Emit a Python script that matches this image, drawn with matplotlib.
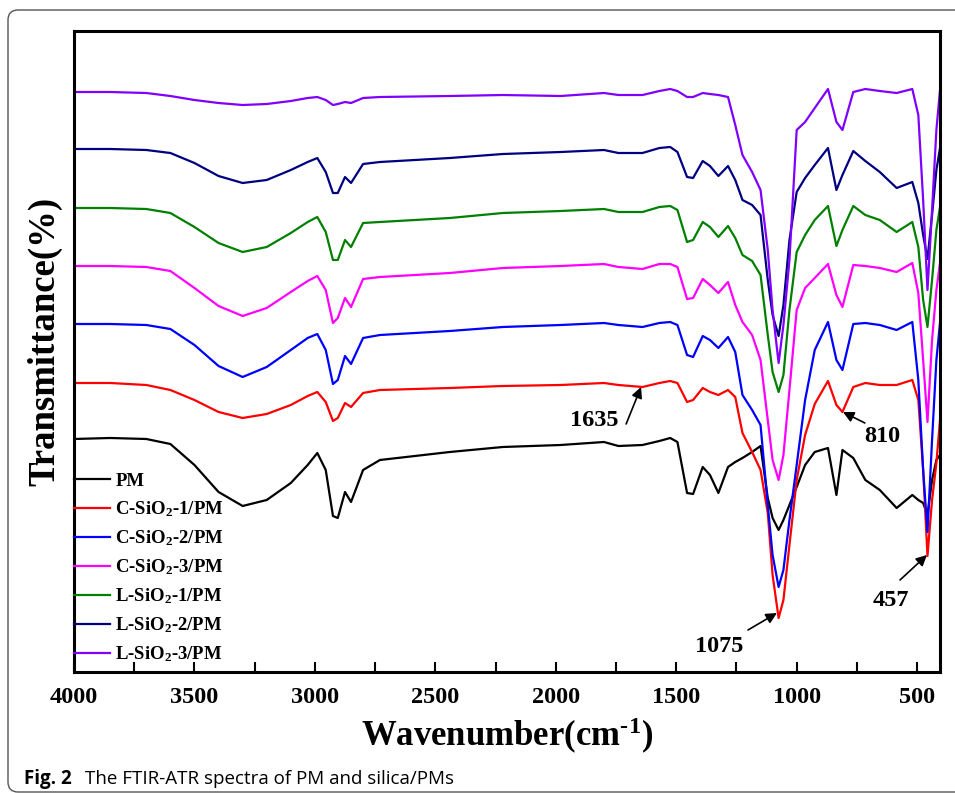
import matplotlib
matplotlib.use('Agg')
import matplotlib.pyplot as plt
from matplotlib.patches import FancyBboxPatch
from matplotlib.ticker import MultipleLocator

plt.rcParams['font.family'] = ['Liberation Serif', 'DejaVu Serif']
plt.rcParams['font.weight'] = 'bold'
plt.rcParams['mathtext.fontset'] = 'custom'
plt.rcParams['mathtext.rm'] = 'Liberation Serif:bold'
plt.rcParams['mathtext.it'] = 'Liberation Serif:bold:italic'
plt.rcParams['mathtext.bf'] = 'Liberation Serif:bold'
plt.rcParams['mathtext.default'] = 'rm'

# wavenumber grid (cm-1)
wavenumber = [4000, 3850, 3700, 3600, 3500, 3400, 3300, 3200, 3100, 3030,
              2990, 2955, 2925, 2905, 2875, 2850, 2800, 2730, 2440, 2220,
              1980, 1800, 1740, 1640, 1570, 1525, 1495, 1455, 1430, 1390,
              1360, 1325, 1285, 1255, 1225, 1185, 1150, 1120, 1100, 1075,
              1055, 1030, 1000, 965, 925, 870, 835, 810, 765, 715,
              655, 585, 520, 495, 475, 457, 438, 420, 405]

# transmittance (a.u., curves stacked with offsets as in the figure)
pm = [24.1, 24.2, 24.1, 23.6, 21.5, 18.8, 17.4, 18.0, 19.7, 21.5,
      22.7, 21.0, 16.4, 16.2, 18.8, 17.8, 21.0, 22.0, 22.8, 23.3,
      23.5, 23.8, 23.4, 23.5, 23.9, 24.2, 23.8, 18.7, 18.6, 21.3,
      20.5, 18.7, 21.3, 21.8, 22.2, 22.8, 23.4, 18.2, 16.2, 15.0,
      16.0, 17.5, 19.3, 21.5, 22.8, 23.2, 18.5, 23.0, 22.2, 20.0,
      19.0, 17.2, 18.5, 18.0, 17.7, 16.5, 20.0, 22.0, 22.5]
c_sio2_1 = [29.7, 29.7, 29.5, 29.0, 28.0, 26.8, 26.2, 26.6, 27.5, 28.4,
            28.8, 27.8, 25.9, 26.2, 27.7, 27.3, 28.7, 29.0, 29.2, 29.4,
            29.5, 29.7, 29.5, 29.3, 29.7, 29.9, 29.7, 27.8, 28.0, 29.2,
            28.8, 28.5, 29.0, 28.3, 24.7, 22.8, 21.0, 16.7, 10.5, 6.2,
            8.0, 13.5, 20.0, 24.5, 27.6, 29.9, 27.5, 26.8, 29.3, 29.7,
            29.5, 29.5, 30.0, 28.0, 21.0, 12.4, 18.0, 21.7, 26.0]
c_sio2_2 = [35.6, 35.6, 35.5, 35.1, 33.5, 31.4, 30.3, 31.3, 33.0, 34.2,
            34.6, 33.0, 29.6, 30.0, 32.4, 31.6, 34.2, 34.5, 34.9, 35.3,
            35.5, 35.7, 35.5, 35.3, 35.7, 35.8, 35.5, 32.5, 32.3, 34.4,
            34.0, 33.2, 34.3, 32.8, 28.5, 27.0, 25.5, 17.5, 12.5, 9.3,
            11.0, 16.0, 21.5, 28.0, 33.0, 35.8, 32.0, 31.0, 35.6, 35.7,
            35.5, 35.0, 35.8, 30.0, 21.0, 14.8, 24.0, 32.0, 35.7]
c_sio2_3 = [41.4, 41.4, 41.3, 40.9, 39.2, 37.4, 36.4, 37.2, 38.8, 39.9,
            40.4, 39.0, 35.7, 36.2, 38.2, 37.3, 40.1, 40.3, 40.7, 41.2,
            41.4, 41.6, 41.3, 41.1, 41.6, 41.6, 41.3, 38.1, 38.2, 40.1,
            39.5, 38.7, 39.8, 37.5, 35.8, 34.5, 32.0, 26.0, 22.0, 20.0,
            22.5, 29.0, 37.0, 39.2, 40.2, 41.6, 38.5, 37.3, 41.5, 41.4,
            41.2, 40.8, 41.7, 38.7, 32.0, 25.8, 34.0, 39.0, 41.7]
l_sio2_1 = [47.2, 47.2, 47.1, 46.7, 45.3, 43.7, 42.8, 43.3, 44.7, 45.8,
            46.3, 44.8, 42.0, 42.0, 44.0, 43.3, 45.7, 45.8, 46.2, 46.7,
            46.9, 47.1, 46.8, 46.8, 47.3, 47.4, 47.0, 43.8, 44.0, 45.8,
            45.3, 44.3, 45.4, 44.2, 42.5, 41.9, 40.5, 34.5, 30.8, 28.8,
            30.5, 37.0, 42.8, 44.5, 46.0, 47.4, 43.4, 45.0, 47.4, 46.5,
            46.0, 44.8, 45.8, 43.3, 38.0, 35.3, 40.0, 45.0, 47.3]
l_sio2_2 = [53.1, 53.1, 53.0, 52.7, 51.7, 50.4, 49.7, 50.0, 51.0, 51.8,
            52.2, 50.8, 48.7, 48.7, 50.3, 49.7, 51.6, 51.8, 52.2, 52.6,
            52.8, 53.0, 52.7, 52.7, 53.2, 53.3, 52.8, 50.3, 50.2, 51.9,
            51.4, 50.4, 51.4, 50.0, 48.0, 47.5, 46.5, 40.0, 36.5, 34.4,
            37.5, 44.0, 48.8, 50.2, 51.5, 53.2, 49.0, 50.5, 52.9, 51.9,
            50.8, 49.2, 49.8, 47.7, 44.5, 42.1, 46.5, 51.0, 53.2]
l_sio2_3 = [58.8, 58.8, 58.7, 58.4, 58.0, 57.7, 57.5, 57.6, 57.9, 58.2,
            58.3, 58.0, 57.5, 57.6, 57.8, 57.7, 58.2, 58.3, 58.4, 58.5,
            58.4, 58.7, 58.5, 58.5, 58.9, 59.1, 58.9, 58.3, 58.3, 58.7,
            58.6, 58.5, 58.3, 55.5, 52.5, 50.8, 49.0, 43.0, 37.0, 31.7,
            35.5, 42.0, 55.0, 55.8, 57.2, 59.1, 55.8, 55.0, 58.8, 59.1,
            58.9, 58.7, 59.1, 56.5, 48.0, 39.0, 47.0, 55.0, 59.0]

series = [pm, c_sio2_1, c_sio2_2, c_sio2_3, l_sio2_1, l_sio2_2, l_sio2_3]
labels = ['PM', 'C-SiO$_2$-1/PM', 'C-SiO$_2$-2/PM', 'C-SiO$_2$-3/PM',
          'L-SiO$_2$-1/PM', 'L-SiO$_2$-2/PM', 'L-SiO$_2$-3/PM']
colors = ['#000000', '#ff0000', '#0000ff', '#ff00ff', '#008000', '#000080', '#8000ff']

fig = plt.figure(figsize=(9.55, 7.93), dpi=100)
ax = fig.add_axes([0.0775, 0.1526, 0.9068, 0.8083])

for values, label, color in zip(series, labels, colors):
    ax.plot(wavenumber, values, color=color, lw=1.6, label=label)

ax.set_xlim(4000, 405)
ax.set_ylim(0.8, 64.9)
ax.xaxis.set_major_locator(MultipleLocator(500))
ax.xaxis.set_minor_locator(MultipleLocator(250))
ax.tick_params(axis='x', which='both', direction='in', length=7, width=1.5,
               labelsize=17.5, pad=11, top=False)
ax.tick_params(axis='y', which='both', left=False, right=False, labelleft=False)
for sp in ax.spines.values():
    sp.set_linewidth(2.2)

ax.set_xlabel('Wavenumber(cm$^{\\text{-1}}$)', fontsize=25, fontweight='bold')
ax.xaxis.set_label_coords(0.5, -0.068)
ax.set_ylabel('Transmittance(%)', fontsize=26.5, fontweight='bold')
ax.yaxis.label.set_verticalalignment('center')
ax.yaxis.set_label_coords(-0.034, 0.515)

ax.legend(loc='lower left', bbox_to_anchor=(0.0, 0.012), frameon=False,
          borderaxespad=0, borderpad=0, handlelength=1.9, handletextpad=0.3,
          labelspacing=0.5, prop={'family': 'Liberation Serif', 'weight': 'bold', 'size': 13.5})

# peak annotations
arrow = dict(arrowstyle='-|>', color='black', lw=1.2, mutation_scale=16,
             shrinkA=0, shrinkB=0)
ax.annotate('', xy=(1646, 29.3), xytext=(1708, 25.6), arrowprops=arrow)
ax.text(1841, 25.9, '1635', fontsize=17.5, ha='center', va='center')
ax.annotate('', xy=(808, 26.8), xytext=(717, 25.7), arrowprops=arrow)
ax.text(646, 24.3, '810', fontsize=17.5, ha='center', va='center')
ax.annotate('', xy=(1082, 6.7), xytext=(1202, 5.0), arrowprops=arrow)
ax.text(1323, 3.3, '1075', fontsize=17.5, ha='center', va='center')
ax.annotate('', xy=(459, 12.5), xytext=(571, 10.0), arrowprops=arrow)
ax.text(609, 7.9, '457', fontsize=17.5, ha='center', va='center')

# page frame and caption
frame = FancyBboxPatch((0.08, 0.01), 9.8, 7.82, boxstyle='round,pad=0,rounding_size=0.1',
                       transform=fig.dpi_scale_trans, fill=False, ec='#555555', lw=1)
fig.add_artist(frame)
fig.text(24 / 955, 1 - 784 / 793, 'Fig. 2', family='Open Sans', fontweight='bold',
         fontsize=13.5, va='baseline')
fig.text(85 / 955, 1 - 784 / 793, 'The FTIR-ATR spectra of PM and silica/PMs',
         family='Open Sans', fontweight='normal', fontsize=13.5, va='baseline')

fig.savefig('out.png', dpi=100)
